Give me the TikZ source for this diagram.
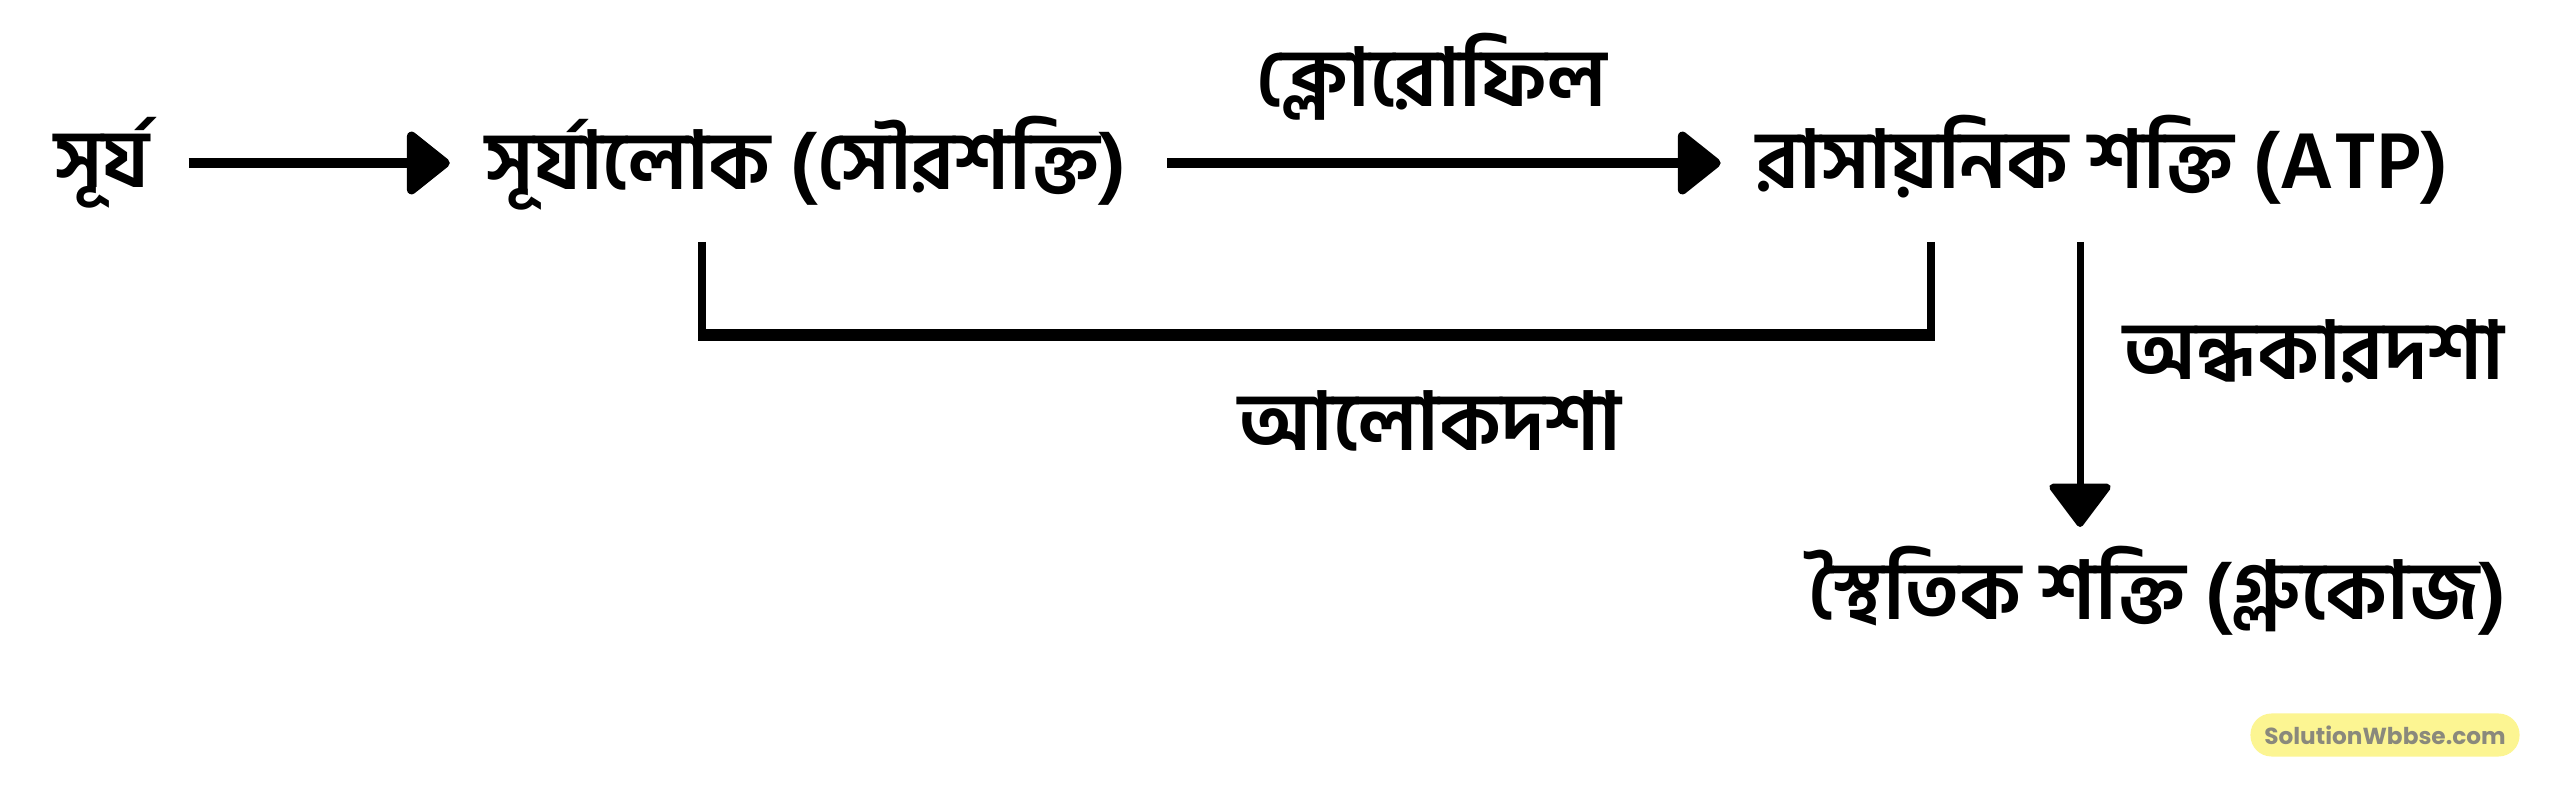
\documentclass[tikz,border=0pt]{standalone}
\usepackage{fontspec}
\usetikzlibrary{arrows.meta,calc}
\newfontfamily\bn[Script=Bengali]{Hind Siliguri}
\newfontfamily\wmfont{Poppins}
\definecolor{wmyellow}{HTML}{FCF592}
\definecolor{wmtext}{HTML}{8A897C}
\tikzset{
  lbl/.style={font=\bn\bfseries\fontsize{23}{26}\selectfont, inner sep=0pt},
  arr/.style={line width=2.6pt, -{Triangle[round,length=13pt,width=20pt]}},
  thinarr/.style={line width=2pt, -{Triangle[round,length=13pt,width=19pt]}},
  brkv/.style={line width=2.2pt},
  brkh/.style={line width=3.2pt},
}
\begin{document}
\begin{tikzpicture}[x=0.01cm,y=-0.01cm]
\useasboundingbox (0,0) rectangle (2560,788);
\node[lbl] (surya) at (102,163) {সূর্য};
\node[lbl] (suryalok) at (806,163) {সূর্যালোক (সৌরশক্তি)};
\node[lbl] (rasa) at (2102,160) {রাসায়নিক শক্তি (ATP)};
\node[lbl] (chloro) at (1432,77) {ক্লোরোফিল};
\node[lbl] (alok) at (1430,421) {আলোকদশা};
\node[lbl] (andh) at (2314,351) {অন্ধকারদশা};
\node[lbl] (sthai) at (2157,591) {স্থৈতিক শক্তি (গ্লুকোজ)};
\node[fill=wmyellow, rounded corners=6pt, minimum width=2.69cm, minimum height=0.43cm, inner sep=0pt,
  font=\wmfont\bfseries\fontsize{6.6}{8}\selectfont, text=wmtext] (wm) at (2385,735) {SolutionWbbse.com};
% arrows
\draw[arr] ([xshift=0.38cm]surya.east) -- ([xshift=-0.35cm]surya.east -| suryalok.west);
\draw[arr] ([xshift=0.4cm]suryalok.east) -- ([xshift=-0.35cm]suryalok.east -| rasa.west);
% bracket
\coordinate (bl) at (702,242);
\coordinate (br) at (1931,242);
\draw[brkv] (bl) -- (702,335);
\draw[brkv] (br) -- (1931,335);
\draw[brkh] ([xshift=-1.1pt]702,335) -- ([xshift=1.1pt]1931,335);
\draw[thinarr] (2080,242) -- (2080,527);
\end{tikzpicture}
\end{document}
